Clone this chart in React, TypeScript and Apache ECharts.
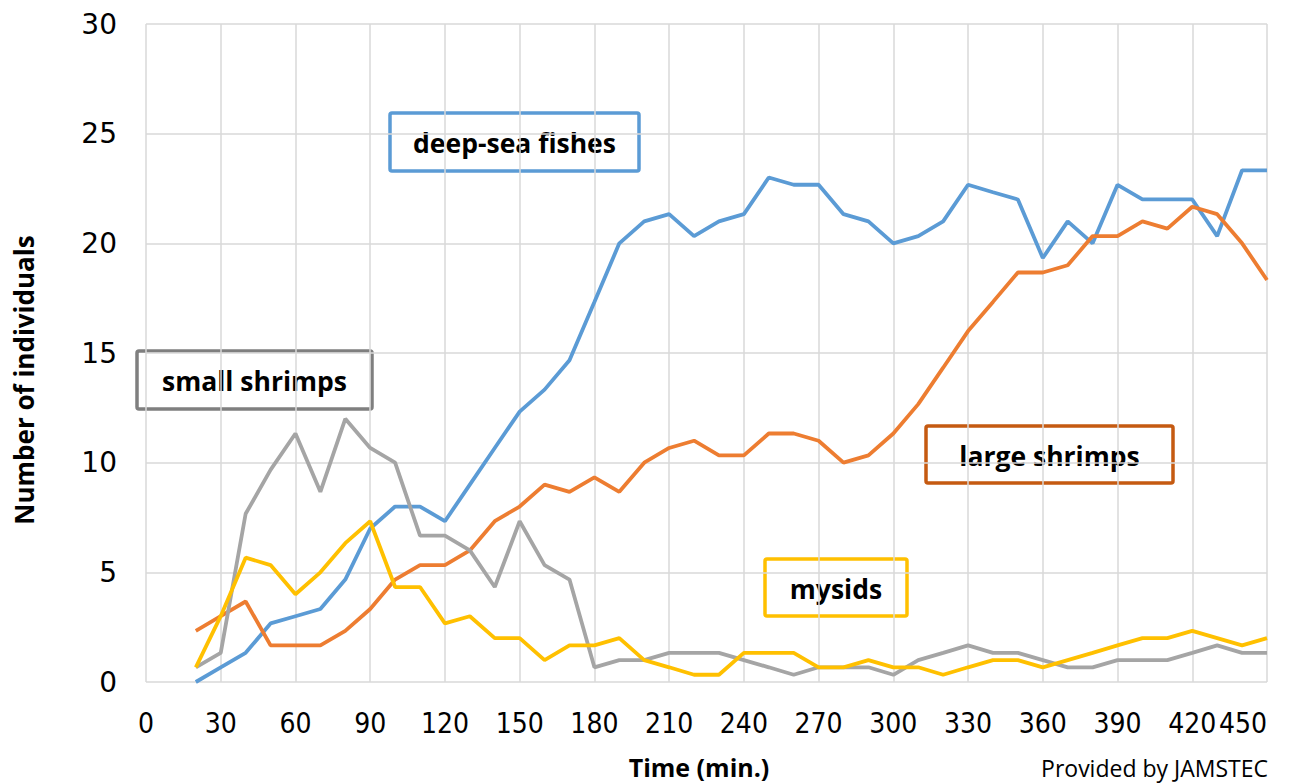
import React, { useEffect, useRef } from "react";
import * as echarts from "echarts";

const times = [20, 30, 40, 50, 60, 70, 80, 90, 100, 110, 120, 130, 140, 150, 160, 170, 180, 190, 200, 210, 220, 230, 240, 250, 260, 270, 280, 290, 300, 310, 320, 330, 340, 350, 360, 370, 380, 390, 400, 410, 420, 430, 440, 450];

const deepSeaFishes = [0, 0.67, 1.33, 2.67, 3, 3.33, 4.67, 7, 8, 8, 7.33, 9, 10.67, 12.33, 13.33, 14.67, 17.33, 20, 21, 21.33, 20.33, 21, 21.33, 23, 22.67, 22.67, 21.33, 21, 20, 20.33, 21, 22.67, 22.33, 22, 19.33, 21, 20, 22.67, 22, 22, 22, 20.33, 23.33, 23.33];

const largeShrimps = [2.33, 3, 3.67, 1.67, 1.67, 1.67, 2.33, 3.33, 4.67, 5.33, 5.33, 6, 7.33, 8, 9, 8.67, 9.33, 8.67, 10, 10.67, 11, 10.33, 10.33, 11.33, 11.33, 11, 10, 10.33, 11.33, 12.67, 14.33, 16, 17.33, 18.67, 18.67, 19, 20.33, 20.33, 21, 20.67, 21.67, 21.33, 20, 18.33];

const smallShrimps = [0.67, 1.33, 7.67, 9.67, 11.33, 8.67, 12, 10.67, 10, 6.67, 6.67, 6, 4.33, 7.33, 5.33, 4.67, 0.67, 1, 1, 1.33, 1.33, 1.33, 1, 0.67, 0.33, 0.67, 0.67, 0.67, 0.33, 1, 1.33, 1.67, 1.33, 1.33, 1, 0.67, 0.67, 1, 1, 1, 1.33, 1.67, 1.33, 1.33];

const mysids = [0.67, 3, 5.67, 5.33, 4, 5, 6.33, 7.33, 4.33, 4.33, 2.67, 3, 2, 2, 1, 1.67, 1.67, 2, 1, 0.67, 0.33, 0.33, 1.33, 1.33, 1.33, 0.67, 0.67, 1, 0.67, 0.67, 0.33, 0.67, 1, 1, 0.67, 1, 1.33, 1.67, 2, 2, 2.33, 2, 1.67, 2];

const seriesNames = ["deep-sea fishes", "large shrimps", "small shrimps", "mysids"];
const seriesColors = ["#5B9BD5", "#ED7D31", "#A5A5A5", "#FFC000"];
const seriesValues = [deepSeaFishes, largeShrimps, smallShrimps, mysids];

const xTicks = { min: 0, max: 450, interval: 30 };
const yTicks = { min: 0, max: 30, interval: 5 };

const boxFont = "'Open Sans', Lato, sans-serif";

function labelBox(text: string, x: number, y: number, w: number, h: number, border: string) {
  return {
    type: "group",
    x,
    y,
    children: [
      {
        type: "rect",
        shape: { x: 0, y: 0, width: w, height: h, r: 2 },
        style: { fill: "#ffffff", stroke: border, lineWidth: 3.5 },
      },
      {
        type: "text",
        x: w / 2,
        y: h / 2 + 1,
        style: {
          text,
          fill: "#000000",
          font: `bold 26.5px ${boxFont}`,
          align: "center",
          verticalAlign: "middle",
        },
      },
    ],
  };
}

export default function App() {
  const ref = useRef<HTMLDivElement>(null);
  useEffect(() => {
    if (!ref.current) return;
    const chart = echarts.init(ref.current, undefined, { renderer: "svg" });
    chart.setOption({
      animation: false,
      backgroundColor: "#ffffff",
      grid: {
        left: 146,
        right: 41,
        top: 24,
        bottom: 101,
        containLabel: false,
        outerBoundsMode: "none",
      },
      xAxis: {
        type: "value",
        min: xTicks.min,
        max: xTicks.max,
        interval: xTicks.interval,
        axisLine: { show: false },
        axisTick: { show: false },
        splitLine: { show: true, lineStyle: { color: "#D9D9D9", width: 1.5 } },
        axisLabel: {
          color: "#000000",
          fontSize: 28,
          fontFamily: "'Liberation Sans Narrow', 'DejaVu Sans Condensed', sans-serif",
          margin: 27,
          alignMaxLabel: "right",
        },
      },
      yAxis: {
        type: "value",
        min: yTicks.min,
        max: yTicks.max,
        interval: yTicks.interval,
        axisLine: { show: false },
        axisTick: { show: false },
        splitLine: { show: true, lineStyle: { color: "#D9D9D9", width: 1.5 } },
        axisLabel: {
          color: "#000000",
          fontSize: 28,
          fontFamily: "'DejaVu Sans', sans-serif",
          margin: 29,
        },
      },
      series: seriesNames.map((name, i) => ({
        name,
        type: "line",
        data: times.map((t, j) => [t, seriesValues[i][j]]),
        showSymbol: false,
        symbol: "none",
        smooth: false,
        lineStyle: { color: seriesColors[i], width: 3.8 },
        itemStyle: { color: seriesColors[i] },
        z: 2 + i,
      })),
      graphic: [
        labelBox("deep-sea fishes", 390, 113, 249, 58, "#5B9BD5"),
        labelBox("small shrimps", 137, 351, 235, 58, "#7F7F7F"),
        labelBox("large shrimps", 926, 426, 247, 57, "#C55A11"),
        labelBox("mysids", 765, 559, 142, 57, "#FFC000"),
        {
          type: "text",
          x: 24,
          y: 380,
          rotation: Math.PI / 2,
          style: {
            text: "Number of individuals",
            fill: "#000000",
            font: `bold 26px ${boxFont}`,
            align: "center",
            verticalAlign: "middle",
          },
        },
        {
          type: "text",
          x: 699,
          y: 767,
          style: {
            text: "Time (min.)",
            fill: "#000000",
            font: `bold 25px ${boxFont}`,
            align: "center",
            verticalAlign: "middle",
          },
        },
        {
          type: "text",
          x: 1268,
          y: 768,
          style: {
            text: "Provided by JAMSTEC",
            fill: "#000000",
            font: `23px ${boxFont}`,
            align: "right",
            verticalAlign: "middle",
          },
        },
      ],
    });
    return () => chart.dispose();
  }, []);
  return (
    <div
      ref={ref}
      style={{ position: "absolute", left: 0, top: 0, width: 1308, height: 783 }}
    />
  );
}
